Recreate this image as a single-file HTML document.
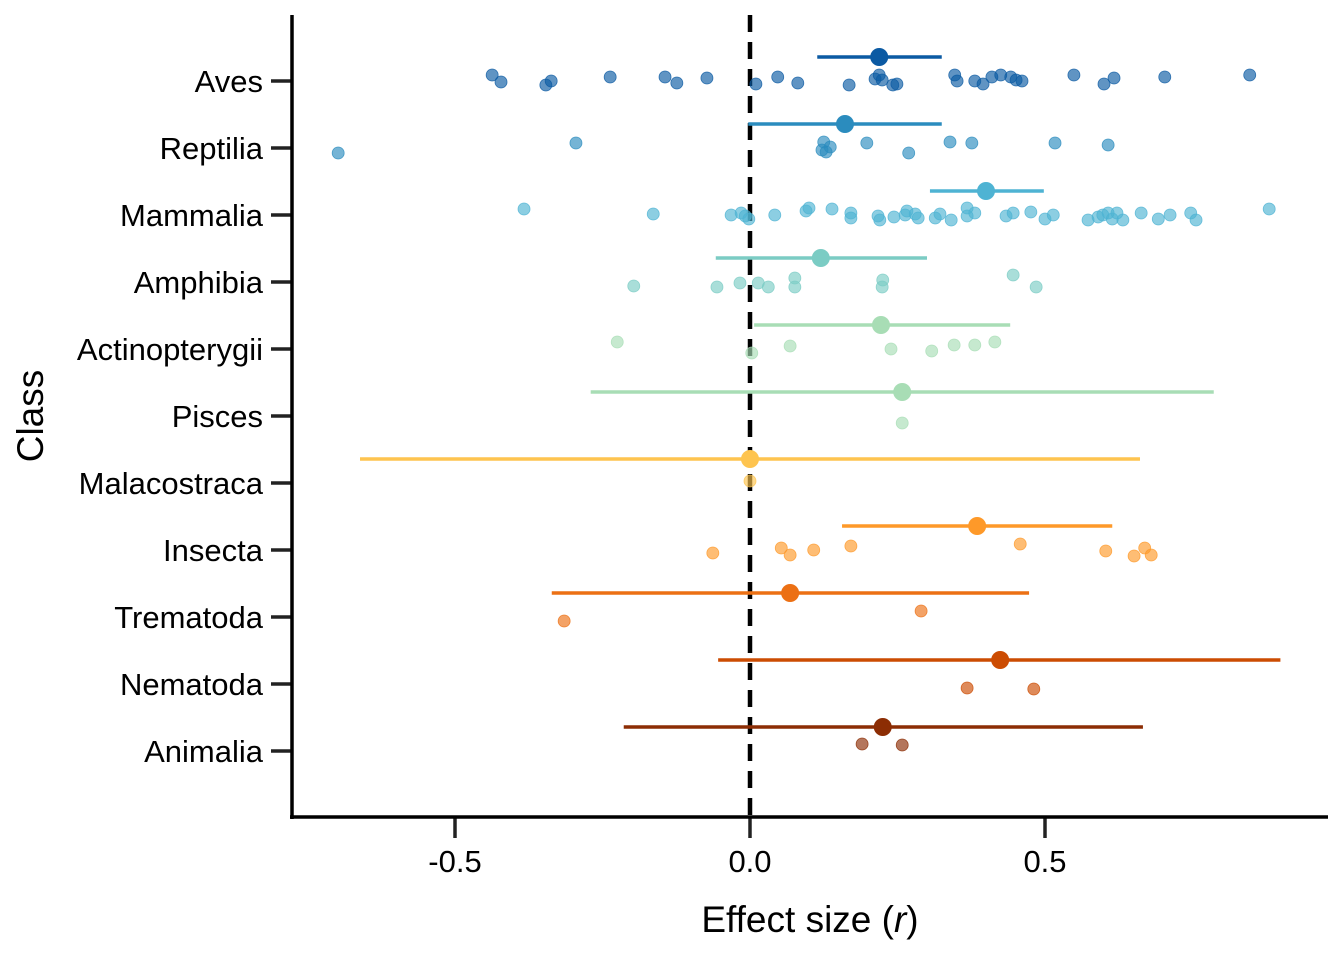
<!DOCTYPE html>
<html><head><meta charset="utf-8"><style>
html,body{margin:0;padding:0;background:#fff;}
svg text{font-family:"Liberation Sans",Arial,sans-serif;fill:#000;}
</style></head><body>
<svg id="chart" width="1344" height="960" viewBox="0 0 1344 960" xmlns="http://www.w3.org/2000/svg"></svg>
<script>
const categories=["Aves","Reptilia","Mammalia","Amphibia","Actinopterygii","Pisces","Malacostraca","Insecta","Trematoda","Nematoda","Animalia"];
const colors=["#0b5aa3","#2b8cbe","#4eb3d3","#7bccc4","#a8ddb5","#a8ddb5","#fec44f","#fe9929","#ec7014","#cc4c02","#8c2d04"];
const means=[0.219,0.161,0.400,0.120,0.222,0.258,0.000,0.385,0.068,0.424,0.225];
const ciLow=[0.114,-0.003,0.305,-0.058,0.007,-0.270,-0.661,0.156,-0.336,-0.054,-0.214];
const ciHigh=[0.325,0.325,0.498,0.300,0.441,0.786,0.661,0.614,0.473,0.899,0.666];
const effects=[
[-0.437,-0.422,-0.346,-0.337,-0.237,-0.144,-0.124,-0.073,0.010,0.047,0.081,0.168,0.212,0.219,0.224,0.242,0.249,0.347,0.351,0.381,0.395,0.410,0.425,0.442,0.451,0.461,0.549,0.600,0.617,0.703,0.847],
[-0.698,-0.295,0.122,0.125,0.129,0.136,0.198,0.269,0.339,0.376,0.517,0.607],
[-0.383,-0.164,-0.032,-0.015,-0.008,-0.002,0.042,0.095,0.100,0.139,0.171,0.171,0.217,0.220,0.244,0.263,0.266,0.280,0.285,0.314,0.322,0.341,0.368,0.368,0.381,0.434,0.446,0.476,0.500,0.514,0.573,0.590,0.598,0.607,0.614,0.632,0.622,0.663,0.692,0.712,0.747,0.756,0.880],
[-0.197,-0.056,-0.017,0.014,0.031,0.076,0.076,0.225,0.224,0.446,0.485],
[-0.225,0.003,0.068,0.239,0.308,0.346,0.381,0.415],
[0.258],
[0.000],
[-0.063,0.053,0.068,0.108,0.171,0.458,0.603,0.651,0.669,0.680],
[-0.315,0.290],
[0.368,0.481],
[0.190,0.258]];
const jitter=[
[-6,1,4,0,-4,-4,2,-3,3,-4,2,4,-2,-6,-1,4,3,-6,0,0,3,-4,-6,-4,-1,0,-6,3,-3,-4,-6],
[5,-5,2,-6,4,-1,-5,5,-6,-5,-5,-3],
[-6,-1,0,-2,1,4,0,-4,-7,-6,-2,3,1,5,2,0,-4,-1,3,3,-1,5,-7,1,-2,1,-2,-3,4,0,5,2,0,-2,4,5,-2,-2,4,0,-2,5,-6],
[4,5,1,1,5,-4,5,-2,5,-7,5],
[-7,4,-3,0,2,-4,-4,-7],
[7],
[-2],
[3,-2,5,0,-4,-6,1,6,-2,5],
[4,-6],
[4,5],
[-7,-6]];
const xTicks=[-0.5,0,0.5];
const xTickLabels=["-0.5","0.0","0.5"];

const svg=document.getElementById('chart');
const NS='http://www.w3.org/2000/svg';
const X0=750, XS=590, ROW0=81, ROWS=67;
const xScale=v=>X0+v*XS;
const yScale=i=>ROW0+i*ROWS;
function mk(tag,attrs,parent){const e=document.createElementNS(NS,tag);for(const k in attrs)e.setAttribute(k,attrs[k]);(parent||svg).appendChild(e);return e;}

const zl=mk('line',{x1:xScale(0),x2:xScale(0),y1:15,y2:817,stroke:'#000','stroke-width':4.5,'stroke-dasharray':'17,10'});



categories.forEach((c,i)=>{
  const g=mk('g',{});
  
  
  effects[i].forEach((v,j)=>{
    const p=mk('circle',{cx:xScale(v),cy:yScale(i)+jitter[i][j],r:6,fill:colors[i],'fill-opacity':0.65,stroke:colors[i],'stroke-opacity':0.8,'stroke-width':0.8},g);
    
    
  });
  const ym=yScale(i)-24;
  const ci=mk('line',{x1:xScale(ciLow[i]),x2:xScale(ciHigh[i]),y1:ym,y2:ym,stroke:colors[i],'stroke-width':3.5},g);
  
  
  const m=mk('circle',{cx:xScale(means[i]),cy:ym,r:9,fill:colors[i]},g);
  
  
  const t=mk('line',{x1:271,x2:292,y1:yScale(i),y2:yScale(i),stroke:'#222','stroke-width':3.5});
  
  
  const lb=mk('text',{x:263,y:yScale(i)+11,'text-anchor':'end','font-size':31});
  lb.textContent=c;
  
  
});

xTicks.forEach((v,i)=>{
  const t=mk('line',{x1:xScale(v),x2:xScale(v),y1:817,y2:838,stroke:'#222','stroke-width':3.5});
  
  
  const lb=mk('text',{x:xScale(v),y:872,'text-anchor':'middle','font-size':31});
  lb.textContent=xTickLabels[i];
  
  
});

const ya=mk('line',{x1:292,x2:292,y1:15,y2:819,stroke:'#000','stroke-width':3.5});


const xa=mk('line',{x1:290,x2:1328,y1:817,y2:817,stroke:'#000','stroke-width':3.5});



const xt=mk('text',{x:810,y:932,'text-anchor':'middle','font-size':37});
xt.innerHTML='Effect size (<tspan font-style="italic">r</tspan>)';


const yt=mk('text',{x:0,y:0,'text-anchor':'middle','font-size':37,transform:'translate(43,416) rotate(-90)'});
yt.textContent='Class';


</script>
</body></html>
